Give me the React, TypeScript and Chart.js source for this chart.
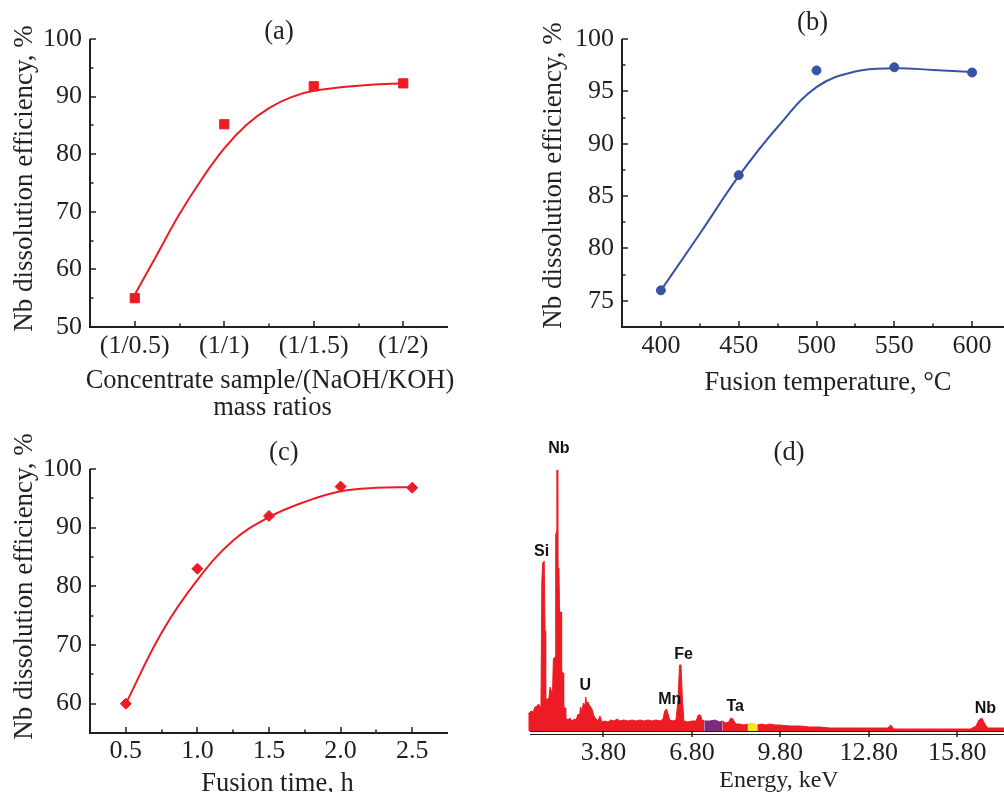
import React, { useEffect, useRef } from 'react';
import { Chart, registerables } from 'chart.js';

Chart.register(...registerables);

const CW = 1050;
const CH = 820;
const SERIF = "'Liberation Serif', 'Times New Roman', serif";
const SANS = "'Liberation Sans', Arial, sans-serif";
const INK = '#231f20';
const RED = '#ed1c24';
const BLUE = '#3953a4';
const PURPLE = '#7d2a7e';
const YELLOW = '#f2e524';

// ---------- (a) mass ratio ----------
const ratioLabels = ['(1/0.5)', '(1/1)', '(1/1.5)', '(1/2)'];
const ratioPos = [0, 1, 2, 3];
const ratioEfficiency = [55.0, 85.2, 91.8, 92.3];
const ratioFitPos = [0, 0.25, 0.5, 0.75, 1, 1.25, 1.5, 1.75, 2, 2.5, 3];
const ratioFitEff = [55.6, 62.6, 69.6, 75.7, 81.0, 85.1, 88.0, 89.9, 91.0, 91.9, 92.3];
const ratioYMajor = [50, 60, 70, 80, 90, 100];
const ratioYMinor = [55, 65, 75, 85, 95];
const ratioXMinor = [0.5, 1.5, 2.5];

// ---------- (b) fusion temperature ----------
const tempC = [400, 450, 500, 550, 600];
const tempEfficiency = [76.0, 87.0, 97.0, 97.3, 96.8];
const tempFitC = [400, 425, 450, 475, 500, 525, 550, 575, 600];
const tempFitEff = [76.0, 81.4, 86.9, 91.6, 95.4, 96.9, 97.2, 97.05, 96.85];
const tempYMajor = [75, 80, 85, 90, 95, 100];
const tempYMinor = [77.5, 82.5, 87.5, 92.5, 97.5];
const tempXMinor = [425, 475, 525, 575, 625];

// ---------- (c) fusion time ----------
const timeH = [0.5, 1.0, 1.5, 2.0, 2.5];
const timeEfficiency = [60.0, 83.0, 92.0, 97.0, 96.8];
const timeFitH = [0.5, 0.75, 1, 1.25, 1.5, 1.75, 2, 2.25, 2.5];
const timeFitEff = [60.0, 72.1, 81.1, 87.8, 91.8, 94.4, 96.2, 96.8, 96.9];
const timeYMajor = [60, 70, 80, 90, 100];
const timeYMinor = [65, 75, 85, 95];
const timeXMinor = [0.75, 1.25, 1.75, 2.25];

// ---------- (d) EDS spectrum ----------
const energyKeV = [
  1.25, 1.34, 1.41, 1.48, 1.55, 1.60, 1.65, 1.68, 1.71, 1.74,
  1.79, 1.82, 1.84, 1.88, 1.95, 1.99, 2.03, 2.07, 2.10, 2.16,
  2.18, 2.21, 2.22, 2.24, 2.25, 2.29, 2.31, 2.36, 2.38, 2.43,
  2.45, 2.50, 2.52, 2.60, 2.66, 2.73, 2.80, 2.87, 2.94, 2.99,
  3.02, 3.07, 3.12, 3.17, 3.20, 3.23, 3.27, 3.34, 3.41, 3.48,
  3.55, 3.61, 3.68, 3.75, 3.85, 3.95, 4.05, 4.16, 4.26, 4.36,
  4.49, 4.63, 4.77, 4.90, 5.04, 5.17, 5.31, 5.44, 5.58, 5.72,
  5.82, 5.88, 5.94, 5.99, 6.05, 6.16, 6.26, 6.33, 6.38, 6.43,
  6.48, 6.53, 6.66, 6.80, 6.94, 7.02, 7.09, 7.14, 7.22, 7.41,
  7.58, 7.75, 7.83, 7.95, 8.05, 8.12, 8.19, 8.29, 8.43, 8.56,
  8.70, 8.83, 9.02, 9.17, 9.31, 9.44, 9.61, 9.78, 10.12, 10.46,
  10.80, 11.14, 11.48, 11.82, 12.16, 12.49, 12.83, 13.17, 13.44, 13.55,
  13.65, 14.19, 14.70, 15.21, 15.74, 16.25, 16.44, 16.54, 16.64, 16.74,
  16.83, 17.27, 18.00,
];
const counts = [
  17, 20, 19, 24, 25, 27, 24, 28, 150, 168,
  170, 100, 34, 31, 33, 44, 40, 34, 72, 74,
  196, 200, 261, 261, 163, 163, 119, 119, 60, 58,
  25, 23, 13, 11, 13, 10, 12, 11, 17, 15,
  24, 20, 28, 25, 34, 27, 29, 25, 22, 15,
  12, 10, 15, 9, 10, 9, 11, 10, 12, 10,
  11, 10, 11, 10, 11, 10, 11, 10, 11, 10,
  12, 20, 22, 17, 11, 10, 11, 31, 66, 66,
  31, 10, 9, 10, 10, 16, 16, 11, 10, 10,
  11, 9, 10, 8, 9, 13, 12, 7, 7, 6,
  7, 8, 6, 7, 6, 7, 6, 6, 5, 5,
  4, 4, 3, 3, 3, 3, 3, 3, 3, 6,
  2, 2, 2, 2, 2, 2, 5, 11, 13, 7,
  3, 3, 3,
];
const energyTicks = [3.8, 6.8, 9.8, 12.8, 15.8];
const purpleRange = [7.22, 7.83];
const yellowRange = [8.70, 9.02];
const peakNames = ['Si', 'Nb', 'U', 'Mn', 'Fe', 'Ta', 'Nb'];
const peakLabelKeV = [1.70, 2.29, 3.18, 6.05, 6.52, 8.27, 16.76];
const peakLabelCount = [175, 278, 41, 27, 72, 20, 18];

// ---------- plugins ----------
const framePlugin = {
  id: 'frame',
  afterDatasetsDraw(chart: any, _args: any, opts: any) {
    const { ctx, chartArea: a, scales } = chart;
    const xs = scales.x;
    const ys = scales.y;
    ctx.save();
    ctx.strokeStyle = INK;
    if (opts.kind === 'double') {
      ctx.lineWidth = 1;
      const x0 = a.left + 2;
      [a.bottom + 0.5, a.bottom + 3.5].forEach((y: number) => {
        ctx.beginPath();
        ctx.moveTo(x0, y);
        ctx.lineTo(a.right, y);
        ctx.stroke();
      });
      ctx.lineWidth = 1.5;
      (opts.xMajor || []).forEach((v: number) => {
        const x = Math.round(xs.getPixelForValue(v));
        ctx.beginPath();
        ctx.moveTo(x, a.bottom);
        ctx.lineTo(x, a.bottom + 6);
        ctx.stroke();
      });
    } else {
      ctx.lineWidth = 2;
      ctx.beginPath();
      ctx.moveTo(a.left, a.top);
      ctx.lineTo(a.left, a.bottom);
      ctx.lineTo(a.right, a.bottom);
      ctx.stroke();
      ctx.lineWidth = 1.5;
      const xt = (vals: number[], len: number) =>
        (vals || []).forEach((v) => {
          const x = Math.round(xs.getPixelForValue(v));
          ctx.beginPath();
          ctx.moveTo(x, a.bottom);
          ctx.lineTo(x, a.bottom - len);
          ctx.stroke();
        });
      const yt = (vals: number[], len: number) =>
        (vals || []).forEach((v) => {
          const y = Math.round(ys.getPixelForValue(v));
          ctx.beginPath();
          ctx.moveTo(a.left, y);
          ctx.lineTo(a.left + len, y);
          ctx.stroke();
        });
      xt(opts.xMajor, 6);
      xt(opts.xMinor, 3.5);
      yt(opts.yMajor, 6);
      yt(opts.yMinor, 3.5);
    }
    ctx.restore();
  },
};

const textPlugin = {
  id: 'panelText',
  afterDraw(chart: any, _args: any, opts: any) {
    const ctx = chart.ctx;
    (opts.items || []).forEach((it: any) => {
      ctx.save();
      ctx.font = `${it.weight || 'normal'} ${it.size}px ${it.family || SERIF}`;
      ctx.fillStyle = INK;
      ctx.textAlign = 'center';
      ctx.textBaseline = 'alphabetic';
      ctx.translate(it.x, it.y);
      if (it.rotate) ctx.rotate((it.rotate * Math.PI) / 180);
      ctx.fillText(it.text, 0, 0);
      ctx.restore();
    });
  },
};

const peakLabelPlugin = {
  id: 'peakLabels',
  afterDatasetsDraw(chart: any, _args: any, opts: any) {
    if (!opts.enabled) return;
    const { ctx, scales } = chart;
    ctx.save();
    ctx.font = `bold 16px ${SANS}`;
    ctx.fillStyle = '#111111';
    ctx.textAlign = 'center';
    ctx.textBaseline = 'alphabetic';
    peakNames.forEach((name, i) => {
      ctx.fillText(name, scales.x.getPixelForValue(peakLabelKeV[i]), scales.y.getPixelForValue(peakLabelCount[i]));
    });
    ctx.restore();
  },
};

// ---------- helpers ----------
type Area = { left: number; top: number; right: number; bottom: number };

function axis(opts: {
  min: number; max: number; ticks: number[]; fmt: (v: number) => string;
  pad: number; prop: 'width' | 'height'; size: number; display?: boolean; fontSize?: number;
}) {
  return {
    type: 'linear',
    min: opts.min,
    max: opts.max,
    display: opts.display !== false,
    afterBuildTicks: (s: any) => { s.ticks = opts.ticks.map((v) => ({ value: v })); },
    afterFit: (s: any) => { s[opts.prop] = opts.size; },
    ticks: {
      callback: (v: any) => opts.fmt(Number(v)),
      font: { family: SERIF, size: opts.fontSize || 26, lineHeight: 1.2 },
      color: INK,
      padding: opts.pad,
      autoSkip: false,
      maxRotation: 0,
      minRotation: 0,
    },
    grid: { display: false, drawTicks: false },
    border: { display: false },
  };
}

function padding(area: Area, yW: number, xH: number) {
  return { left: area.left - yW, top: area.top, right: CW - area.right, bottom: CH - area.bottom - xH };
}

function pts(xs: number[], ys: number[]) {
  return xs.map((x, i) => ({ x, y: ys[i] }));
}

function efficiencyChart(canvas: HTMLCanvasElement, cfg: any) {
  const Y_W = 60;
  const X_H = 50;
  return new Chart(canvas, {
    type: 'line',
    data: {
      datasets: [
        {
          data: pts(cfg.mx, cfg.my),
          showLine: false,
          pointStyle: cfg.pointStyle,
          pointRadius: cfg.pointRadius,
          pointBackgroundColor: cfg.color,
          pointBorderColor: cfg.color,
          pointBorderWidth: 1,
        },
        {
          data: pts(cfg.fx, cfg.fy),
          borderColor: cfg.color,
          borderWidth: 2,
          pointRadius: 0,
          tension: 0.4,
          fill: false,
        },
      ],
    },
    options: {
      animation: false,
      responsive: false,
      devicePixelRatio: 1,
      layout: { padding: padding(cfg.area, Y_W, X_H) },
      scales: {
        x: axis({ min: cfg.xMin, max: cfg.xMax, ticks: cfg.xMajor, fmt: cfg.xFmt, pad: cfg.xPad, prop: 'height', size: X_H }),
        y: axis({ min: cfg.yMin, max: cfg.yMax, ticks: cfg.yMajor, fmt: (v) => String(v), pad: 8, prop: 'width', size: Y_W }),
      },
      plugins: {
        legend: { display: false },
        tooltip: { enabled: false },
        frame: { xMajor: cfg.xMajor, xMinor: cfg.xMinor, yMajor: cfg.yMajor, yMinor: cfg.yMinor },
        panelText: { items: cfg.texts },
        peakLabels: { enabled: false },
      },
    } as any,
    plugins: [framePlugin, textPlugin, peakLabelPlugin],
  } as any);
}

function spectrumChart(canvas: HTMLCanvasElement) {
  const area: Area = { left: 528, top: 440, right: 1022, bottom: 731 };
  const X_H = 50;
  const colorAt = (x: number) => {
    if (x >= purpleRange[0] && x < purpleRange[1]) return PURPLE;
    if (x >= yellowRange[0] && x < yellowRange[1]) return YELLOW;
    return RED;
  };
  return new Chart(canvas, {
    type: 'line',
    data: {
      datasets: [
        {
          data: pts(energyKeV, counts),
          borderColor: RED,
          backgroundColor: RED,
          borderWidth: 1,
          pointRadius: 0,
          fill: 'origin',
          tension: 0,
          segment: {
            backgroundColor: (c: any) => colorAt(c.p0.parsed.x),
            borderColor: (c: any) => colorAt(c.p0.parsed.x),
          },
        },
      ],
    },
    options: {
      animation: false,
      responsive: false,
      devicePixelRatio: 1,
      layout: { padding: padding(area, 0, X_H) },
      scales: {
        x: axis({ min: 1.24, max: 18.0, ticks: energyTicks, fmt: (v) => v.toFixed(2), pad: 7, prop: 'height', size: X_H }),
        y: { type: 'linear', display: false, min: 0, max: 291 },
      },
      plugins: {
        legend: { display: false },
        tooltip: { enabled: false },
        frame: { kind: 'double', xMajor: energyTicks },
        panelText: {
          items: [
            { text: '(d)', x: 789, y: 460, size: 26.5 },
            { text: 'Energy, keV', x: 779, y: 787, size: 24 },
          ],
        },
        peakLabels: { enabled: true },
      },
    } as any,
    plugins: [framePlugin, textPlugin, peakLabelPlugin],
  } as any);
}

const Y_TITLE = 'Nb dissolution efficiency, %';

export default function App() {
  const r0 = useRef<HTMLCanvasElement>(null);
  const r1 = useRef<HTMLCanvasElement>(null);
  const r2 = useRef<HTMLCanvasElement>(null);
  const r3 = useRef<HTMLCanvasElement>(null);

  useEffect(() => {
    const charts: Chart[] = [];
    charts.push(
      efficiencyChart(r0.current!, {
        area: { left: 90, top: 39, right: 448, bottom: 327 },
        mx: ratioPos, my: ratioEfficiency, fx: ratioFitPos, fy: ratioFitEff,
        color: RED, pointStyle: 'rect', pointRadius: 6.5,
        xMin: -0.5, xMax: 3.5, xMajor: ratioPos, xMinor: ratioXMinor,
        xFmt: (v: number) => ratioLabels[Math.round(v)] ?? '', xPad: 4,
        yMin: 50, yMax: 100, yMajor: ratioYMajor, yMinor: ratioYMinor,
        texts: [
          { text: '(a)', x: 279, y: 38.5, size: 26.5 },
          { text: Y_TITLE, x: 31.5, y: 178.5, size: 27, rotate: -90 },
          { text: 'Concentrate sample/(NaOH/KOH)', x: 270, y: 388, size: 26.5 },
          { text: 'mass ratios', x: 272.5, y: 415, size: 26.5 },
        ],
      })
    );
    charts.push(
      efficiencyChart(r1.current!, {
        area: { left: 622, top: 39, right: 1011, bottom: 327 },
        mx: tempC, my: tempEfficiency, fx: tempFitC, fy: tempFitEff,
        color: BLUE, pointStyle: 'circle', pointRadius: 4.5,
        xMin: 375, xMax: 625, xMajor: tempC, xMinor: tempXMinor,
        xFmt: (v: number) => String(v), xPad: 4,
        yMin: 72.5, yMax: 100, yMajor: tempYMajor, yMinor: tempYMinor,
        texts: [
          { text: '(b)', x: 812.5, y: 30.3, size: 26.5 },
          { text: Y_TITLE, x: 561, y: 175.5, size: 27, rotate: -90 },
          { text: 'Fusion temperature, °C', x: 828, y: 390, size: 26.5 },
        ],
      })
    );
    charts.push(
      efficiencyChart(r2.current!, {
        area: { left: 90, top: 469, right: 448, bottom: 733 },
        mx: timeH, my: timeEfficiency, fx: timeFitH, fy: timeFitEff,
        color: RED, pointStyle: 'rectRot', pointRadius: 5.5,
        xMin: 0.25, xMax: 2.75, xMajor: timeH, xMinor: timeXMinor,
        xFmt: (v: number) => v.toFixed(1), xPad: 3,
        yMin: 55, yMax: 100, yMajor: timeYMajor, yMinor: timeYMinor,
        texts: [
          { text: '(c)', x: 283.8, y: 460.3, size: 26.5 },
          { text: Y_TITLE, x: 31.5, y: 586.5, size: 27, rotate: -90 },
          { text: 'Fusion time, h', x: 277.5, y: 790.5, size: 26.5 },
        ],
      })
    );
    charts.push(spectrumChart(r3.current!));
    return () => charts.forEach((c) => c.destroy());
  }, []);

  const cs: React.CSSProperties = { position: 'absolute', left: 0, top: 0, width: CW, height: CH };
  return (
    <div style={{ position: 'absolute', left: 0, top: 0, width: 1004, height: 792, overflow: 'hidden', background: '#ffffff' }}>
      <canvas ref={r0} width={CW} height={CH} style={cs} />
      <canvas ref={r1} width={CW} height={CH} style={cs} />
      <canvas ref={r2} width={CW} height={CH} style={cs} />
      <canvas ref={r3} width={CW} height={CH} style={cs} />
    </div>
  );
}
